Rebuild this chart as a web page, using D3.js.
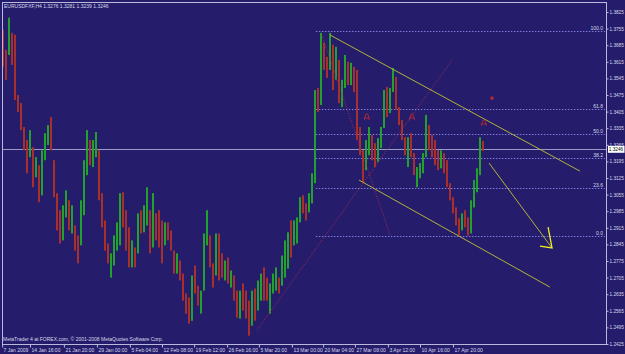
<!DOCTYPE html>
<html>
<head>
<meta charset="utf-8">
<script src="https://cdn.jsdelivr.net/npm/d3@7"></script>
<style>
body { margin: 0; background: #251d6c; }
svg { display: block; }
text { font-family: "Liberation Sans", Arial, sans-serif; }
</style>
</head>
<body>
<svg width="625" height="354"></svg>
<script>
window.onload = function() {

// EURUSD H4 bars, 7 Jan - 24 Apr 2009 (grouped)
var firstOpen = 1.3740;
var highs = [
    1.3750, 1.3665, 1.3801, 1.3737, 1.3729, 1.3475, 1.3441, 1.3340, 1.3285, 1.3327,
    1.3255, 1.3213, 1.3179, 1.3242, 1.3314, 1.3348, 1.3382, 1.3200, 1.3061, 1.2989,
    1.3010, 1.3073, 1.3031, 1.3010, 1.2925, 1.2883, 1.3031, 1.3200, 1.3327, 1.3285,
    1.3285, 1.3319, 1.3242, 1.3061, 1.2946, 1.2849, 1.2807, 1.2883, 1.2938, 1.3061,
    1.3065, 1.2989, 1.2917, 1.2862, 1.2832, 1.2976, 1.2989, 1.3010, 1.3086, 1.2989,
    1.3061, 1.2976, 1.2989, 1.2946, 1.2938, 1.2938, 1.2904, 1.2819, 1.2807, 1.2777,
    1.2722, 1.2638, 1.2621, 1.2714, 1.2756, 1.2671, 1.2650, 1.2891, 1.2989, 1.2883,
    1.2765, 1.2891, 1.2891, 1.2807, 1.2777, 1.2790, 1.2735, 1.2714, 1.2650, 1.2650,
    1.2680, 1.2650, 1.2608, 1.2650, 1.2659, 1.2693, 1.2722, 1.2748, 1.2705, 1.2680,
    1.2722, 1.2748, 1.2705, 1.2798, 1.2862, 1.2896, 1.2946, 1.2946, 1.2959, 1.3044,
    1.3052, 1.3018, 1.3061, 1.3145, 1.3496, 1.3505, 1.3737, 1.3695, 1.3636, 1.3737,
    1.3687, 1.3678, 1.3623, 1.3539, 1.3644, 1.3615, 1.3611, 1.3594, 1.3581, 1.3340,
    1.3242, 1.3285, 1.3340, 1.3306, 1.3272, 1.3293, 1.3340, 1.3496, 1.3509, 1.3505,
    1.3589, 1.3551, 1.3424, 1.3369, 1.3297, 1.3297, 1.3314, 1.3230, 1.3171, 1.3188,
    1.3230, 1.3391, 1.3348, 1.3306, 1.3285, 1.3242, 1.3242, 1.3230, 1.3200, 1.3103,
    1.3044, 1.3001, 1.2955, 1.2976, 1.2989, 1.2959, 1.3031, 1.3116, 1.3166, 1.3297,
    1.3281
];
var lows = [
    1.3594, 1.3539, 1.3644, 1.3602, 1.3454, 1.3403, 1.3327, 1.3242, 1.3145, 1.3213,
    1.3086, 1.3128, 1.3023, 1.3052, 1.3200, 1.3264, 1.3242, 1.3044, 1.2904, 1.2849,
    1.2862, 1.2959, 1.2904, 1.2891, 1.2819, 1.2765, 1.2841, 1.2968, 1.3137, 1.3179,
    1.3171, 1.3213, 1.3031, 1.2917, 1.2819, 1.2765, 1.2705, 1.2756, 1.2819, 1.2841,
    1.2917, 1.2819, 1.2748, 1.2748, 1.2748, 1.2807, 1.2891, 1.2896, 1.2925, 1.2807,
    1.2832, 1.2862, 1.2832, 1.2765, 1.2841, 1.2862, 1.2819, 1.2722, 1.2722, 1.2693,
    1.2608, 1.2553, 1.2511, 1.2523, 1.2638, 1.2587, 1.2553, 1.2650, 1.2841, 1.2748,
    1.2663, 1.2714, 1.2693, 1.2705, 1.2693, 1.2680, 1.2663, 1.2608, 1.2536, 1.2532,
    1.2566, 1.2532, 1.2460, 1.2502, 1.2523, 1.2566, 1.2608, 1.2608, 1.2608, 1.2553,
    1.2638, 1.2650, 1.2638, 1.2671, 1.2705, 1.2743, 1.2790, 1.2841, 1.2849, 1.2938,
    1.2976, 1.2946, 1.2980, 1.3018, 1.3103, 1.3403, 1.3433, 1.3581, 1.3547, 1.3581,
    1.3496, 1.3539, 1.3441, 1.3424, 1.3505, 1.3517, 1.3517, 1.3488, 1.3285, 1.3221,
    1.3107, 1.3158, 1.3221, 1.3200, 1.3171, 1.3192, 1.3251, 1.3336, 1.3382, 1.3399,
    1.3488, 1.3412, 1.3348, 1.3285, 1.3221, 1.3171, 1.3213, 1.3137, 1.3086, 1.3124,
    1.3145, 1.3213, 1.3242, 1.3213, 1.3179, 1.3158, 1.3166, 1.3145, 1.3086, 1.3031,
    1.2976, 1.2925, 1.2883, 1.2904, 1.2917, 1.2883, 1.2891, 1.3001, 1.3065, 1.3137,
    1.3239
];
var closes = [
    1.3602, 1.3547, 1.3784, 1.3644, 1.3475, 1.3420, 1.3403, 1.3264, 1.3179, 1.3306,
    1.3116, 1.3158, 1.3052, 1.3221, 1.3293, 1.3336, 1.3264, 1.3073, 1.2938, 1.2883,
    1.2989, 1.3052, 1.2938, 1.2989, 1.2841, 1.2798, 1.3010, 1.3179, 1.3285, 1.3200,
    1.3276, 1.3306, 1.3052, 1.2946, 1.2841, 1.2777, 1.2786, 1.2862, 1.2925, 1.3010,
    1.2946, 1.2841, 1.2786, 1.2841, 1.2769, 1.2955, 1.2913, 1.2997, 1.3073, 1.2841,
    1.3031, 1.2968, 1.2862, 1.2798, 1.2925, 1.2870, 1.2828, 1.2743, 1.2786, 1.2701,
    1.2625, 1.2574, 1.2532, 1.2693, 1.2659, 1.2608, 1.2629, 1.2862, 1.2968, 1.2769,
    1.2693, 1.2870, 1.2735, 1.2726, 1.2765, 1.2701, 1.2726, 1.2625, 1.2557, 1.2638,
    1.2587, 1.2545, 1.2481, 1.2629, 1.2557, 1.2684, 1.2710, 1.2642, 1.2625, 1.2663,
    1.2710, 1.2735, 1.2650, 1.2786, 1.2849, 1.2883, 1.2819, 1.2925, 1.2946, 1.3031,
    1.3010, 1.2968, 1.3052, 1.3124, 1.3475, 1.3433, 1.3708, 1.3602, 1.3572, 1.3716,
    1.3517, 1.3657, 1.3462, 1.3517, 1.3623, 1.3539, 1.3589, 1.3505, 1.3306, 1.3242,
    1.3124, 1.3264, 1.3327, 1.3221, 1.3192, 1.3276, 1.3327, 1.3475, 1.3412, 1.3496,
    1.3572, 1.3433, 1.3361, 1.3297, 1.3242, 1.3276, 1.3234, 1.3149, 1.3158, 1.3179,
    1.3217, 1.3369, 1.3264, 1.3230, 1.3200, 1.3179, 1.3221, 1.3158, 1.3103, 1.3044,
    1.2989, 1.2946, 1.2904, 1.2968, 1.2925, 1.2904, 1.3010, 1.3094, 1.3149, 1.3276,
    1.3246
];

var priceTicks = [1.3825, 1.3755, 1.3685, 1.3615, 1.3545, 1.3475, 1.3405, 1.3335, 1.3265,
    1.3195, 1.3125, 1.3055, 1.2985, 1.2915, 1.2845, 1.2775, 1.2705, 1.2635, 1.2565, 1.2495, 1.2425];

var dateLabels = ["7 Jan 2009", "14 Jan 16:00", "21 Jan 20:00", "29 Jan 00:00", "5 Feb 04:00",
    "12 Feb 08:00", "19 Feb 12:00", "26 Feb 16:00", "5 Mar 20:00", "13 Mar 00:00", "20 Mar 04:00",
    "27 Mar 08:00", "3 Apr 12:00", "10 Apr 16:00", "17 Apr 20:00"];
var dateBars = [-0.3, 9, 20.3, 31.3, 42.3, 53, 63.7, 74.7, 85.3, 96.3, 106.7, 117.3, 128.3, 139, 150];

// fibonacci retracement (high -> low)
var fibHigh = 1.3745, fibLow = 1.2880, fibStartBar = 104.3;
var fibLevels = [100.0, 61.8, 50.0, 38.2, 23.6, 0.0];

// drawn objects: [bar, price] anchors
var channelLines = [
    [[109, 1.3728], [192.3, 1.3154]],
    [[118.7, 1.3116], [182.3, 1.2665]],
    [[162, 1.3188], [183, 1.2830]]
];
var arrowHead = [[181.7, 1.2918], [183, 1.2830], [179, 1.2838]];
var redLines = [
    [[84.7, 1.2484], [149.7, 1.3623]],
    [[106.3, 1.3728], [129, 1.2885]]
];
var marks = [[121.3, 1.3382], [136.3, 1.3382], [160.3, 1.3357]];
var redDot = [163, 1.3462];

var svg = d3.select("svg");
var W = 625, H = 354;
var left = 2, right = 606, top = 2, bottom = 344;

var bg = "#251d6c";
var frameColor = "#b9b9dc";
var upColor = "#23a12e";
var downColor = "#a8302c";
var fibColor = "#7d7ddc";
var lineColor = "#b2b23a";
var textColor = "#d8d8e8";

var x = d3.scaleLinear().domain([0, 160]).range([3, 483]);
var y = d3.scaleLinear().domain([1.2425, 1.3825]).range([344, 12]);

svg.append("rect").attr("width", W).attr("height", H).attr("fill", bg);

var plot = svg.append("g");

// current price line
var lastY = Math.round(y(closes[closes.length - 1])) + 0.5;
plot.append("line")
    .attr("x1", left).attr("x2", right)
    .attr("y1", lastY).attr("y2", lastY)
    .attr("stroke", "#9a9ac4").attr("stroke-width", 1);

// fibo levels
var fibG = plot.append("g");
fibLevels.forEach(function(l) {
    var p = fibLow + (fibHigh - fibLow) * l / 100;
    var yy = Math.round(y(p)) + 0.5;
    fibG.append("line")
        .attr("x1", x(fibStartBar)).attr("x2", right - 1)
        .attr("y1", yy).attr("y2", yy)
        .attr("stroke", fibColor).attr("stroke-width", 1)
        .attr("stroke-dasharray", "1.5,1.5");
    fibG.append("text")
        .attr("x", right - 3).attr("y", yy - 1.5)
        .attr("text-anchor", "end")
        .attr("font-size", "5px")
        .attr("fill", textColor)
        .text(l.toFixed(1));
});

// bars
var bars = plot.append("g");
closes.forEach(function(c, i) {
    var o = i ? closes[i - 1] : firstOpen;
    var col = c >= o ? upColor : downColor;
    var xx = Math.round(x(i));
    bars.append("rect")
        .attr("x", xx - 1).attr("width", 2)
        .attr("y", y(highs[i])).attr("height", y(lows[i]) - y(highs[i]))
        .attr("fill", col);
});

var line = d3.line()
    .x(function(d) { return x(d[0]); })
    .y(function(d) { return y(d[1]); });

// red dotted lines
redLines.forEach(function(l) {
    plot.append("path").attr("d", line(l))
        .attr("fill", "none").attr("stroke", "#a82a4a")
        .attr("stroke-width", 1).attr("stroke-dasharray", "1,1.5");
});

// trend lines
channelLines.forEach(function(l) {
    plot.append("path").attr("d", line(l))
        .attr("fill", "none").attr("stroke", lineColor).attr("stroke-width", 1);
});
plot.append("path").attr("d", line(arrowHead))
    .attr("fill", "none").attr("stroke", "#f0f020").attr("stroke-width", 1.3);

// fractal-like marks
marks.forEach(function(m) {
    var mx = x(m[0]), my = y(m[1]);
    plot.append("path")
        .attr("d", "M" + (mx - 2.5) + "," + (my + 3) + "L" + (mx - 1) + "," + (my - 3) +
            "L" + (mx + 1) + "," + (my - 3) + "L" + (mx + 2.5) + "," + (my + 3) +
            "M" + (mx - 3) + "," + (my + 1) + "L" + (mx + 3) + "," + (my + 1))
        .attr("fill", "none").attr("stroke", "#b02838").attr("stroke-width", 0.9);
});
plot.append("rect")
    .attr("x", x(redDot[0]) - 1.5).attr("y", y(redDot[1]) - 1.5)
    .attr("width", 3).attr("height", 3).attr("fill", "#c02838");

// frame
svg.append("rect")
    .attr("x", left + 0.5).attr("y", top + 0.5)
    .attr("width", right - left).attr("height", bottom - top)
    .attr("fill", "none").attr("stroke", frameColor).attr("stroke-width", 1);

// right price axis
var yAxis = d3.axisRight(y).tickValues(priceTicks).tickSize(2).tickPadding(1)
    .tickFormat(d3.format(".4f"));
var ya = svg.append("g")
    .attr("transform", "translate(" + (right + 0.5) + ",0)")
    .call(yAxis);
ya.select(".domain").remove();
ya.selectAll("line").attr("stroke", frameColor);
ya.selectAll("text").attr("fill", textColor).attr("font-size", "4.7px")
    .attr("font-family", "Liberation Sans, Arial, sans-serif");

// current price box
var cy = y(closes[closes.length - 1]);
svg.append("rect")
    .attr("x", right + 2).attr("y", cy - 3.5).attr("width", 16.5).attr("height", 7)
    .attr("fill", "#ffffff");
svg.append("text")
    .attr("x", right + 2.8).attr("y", cy + 1.8)
    .attr("font-size", "4.7px").attr("fill", "#000000")
    .text(closes[closes.length - 1].toFixed(4));

// bottom time axis
var xAxis = d3.axisBottom(x).tickValues(dateBars).tickSize(3).tickPadding(1)
    .tickFormat(function(d, i) { return dateLabels[i]; });
var xa = svg.append("g")
    .attr("transform", "translate(0," + (bottom + 0.5) + ")")
    .call(xAxis);
xa.select(".domain").remove();
xa.selectAll("line").attr("stroke", frameColor);
xa.selectAll("text").attr("fill", textColor).attr("font-size", "5px")
    .attr("text-anchor", "start").attr("dx", "1px")
    .attr("font-family", "Liberation Sans, Arial, sans-serif");

// header / footer text
svg.append("text")
    .attr("x", 4).attr("y", 8)
    .attr("font-size", "5px").attr("fill", textColor)
    .text("EURUSDFXF,H4  1.3276 1.3281 1.3239 1.3246");
svg.append("text")
    .attr("x", 3).attr("y", 341)
    .attr("font-size", "5px").attr("fill", textColor)
    .text("MetaTrader 4 at FOREX.com, \u00a9 2001-2008 MetaQuotes Software Corp.");

}
</script>
</body>
</html>
